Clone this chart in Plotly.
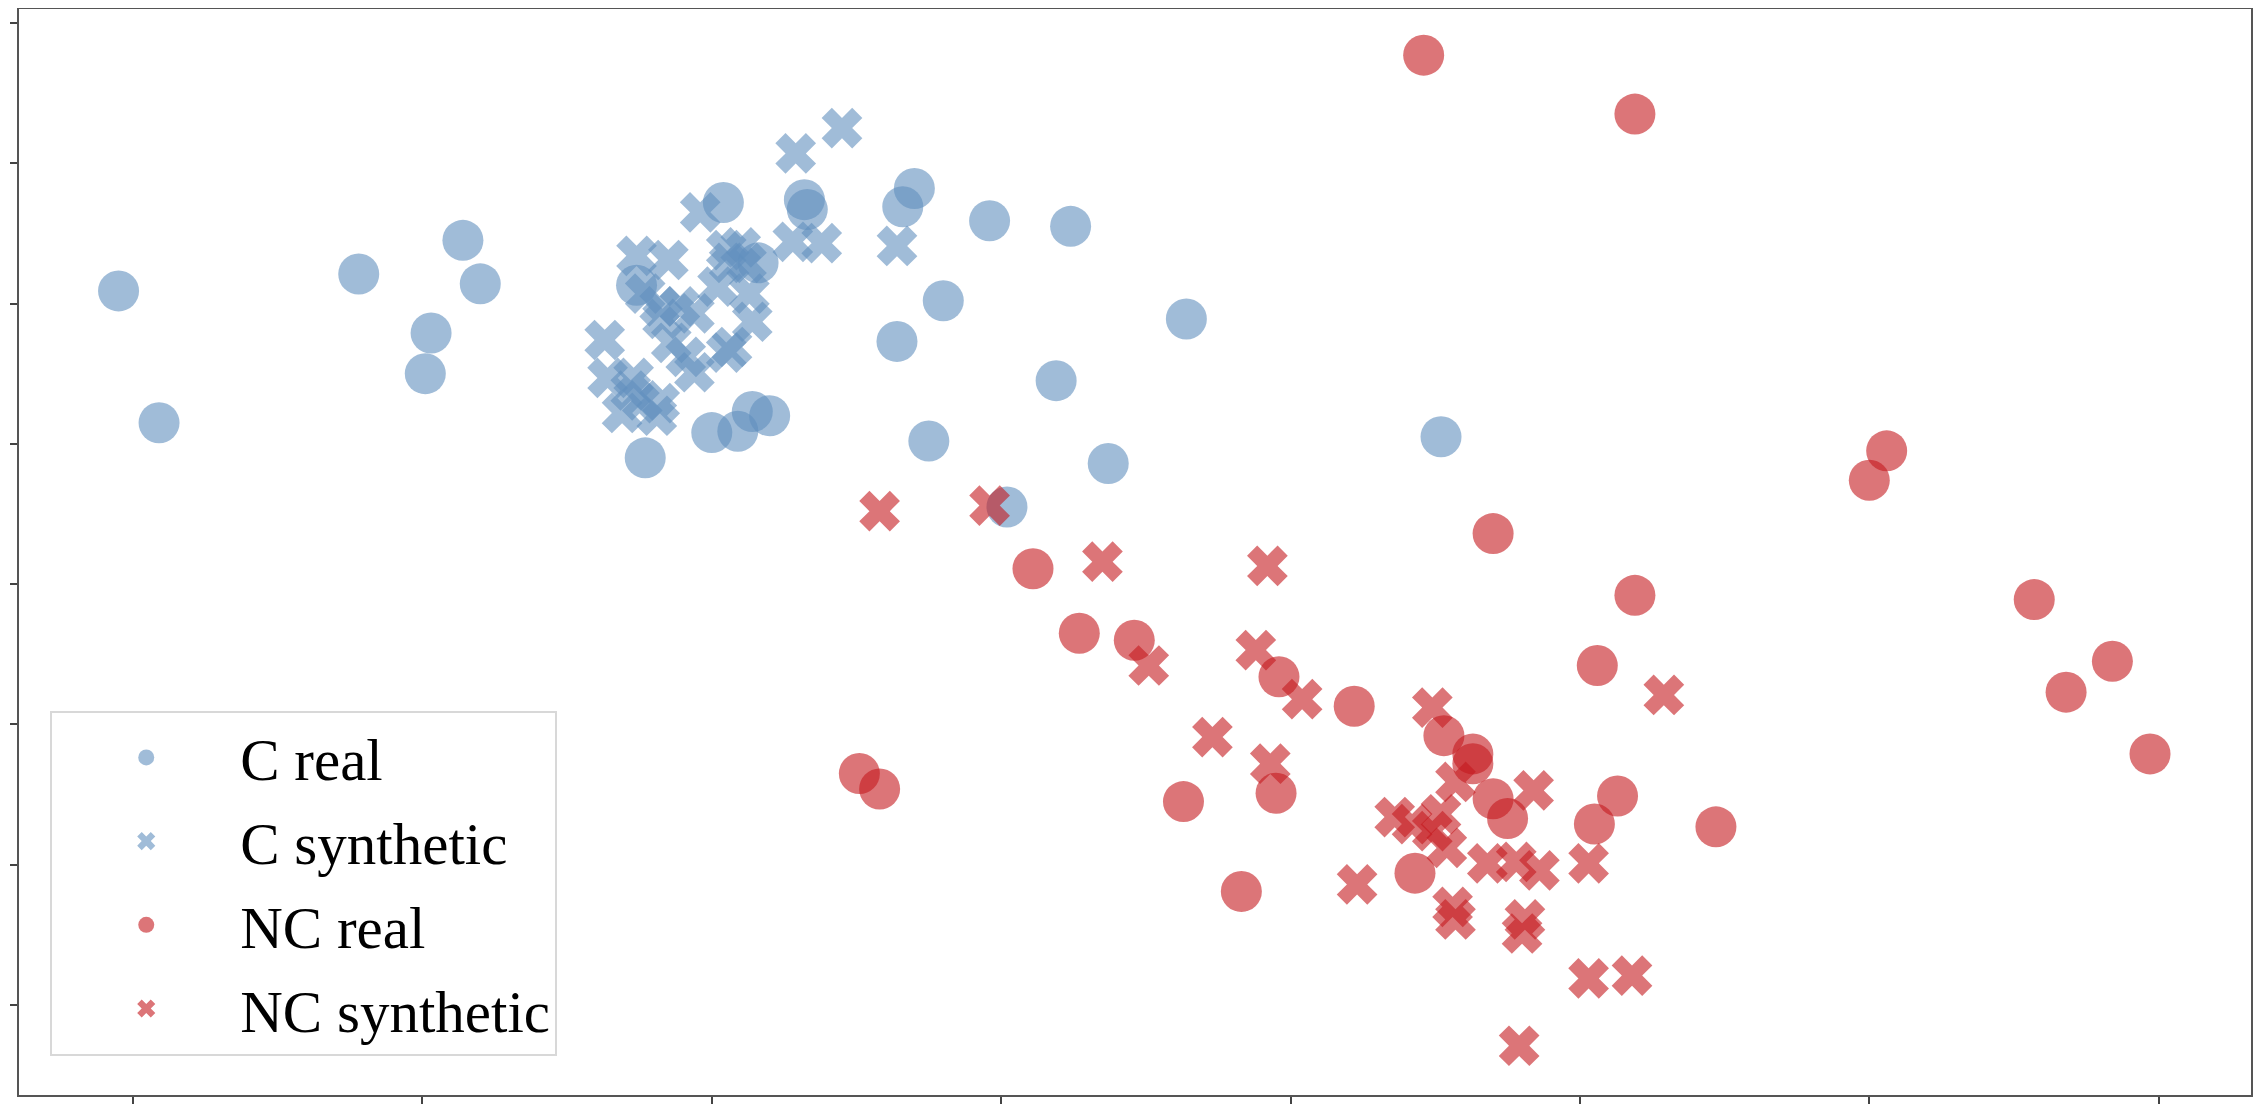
import plotly.graph_objects as go

# C real
c_real_x = [-0.05, 0.09, 0.78, 1.14, 1.20, 1.03, 1.01, 1.77, 1.74, 2.04, 2.32, 2.33,
            2.70, 2.66, 2.16, 2.64, 2.80, 2.75, 2.00, 2.09, 2.14, 2.20, 2.96, 3.24,
            3.19, 3.64, 3.37, 4.52, 3.02]
c_real_y = [5.09, 4.15, 5.21, 5.45, 5.14, 4.79, 4.50, 3.90, 5.13, 5.72, 5.74, 5.67,
            5.82, 5.69, 5.29, 4.73, 5.02, 4.02, 4.08, 4.09, 4.23, 4.20, 5.59, 5.55,
            4.45, 4.89, 3.86, 4.05, 3.55]

# C synthetic
c_syn_x = [2.45, 2.29, 1.96, 2.28, 2.38, 2.64, 1.74, 1.85, 2.05, 2.10, 2.06, 2.12,
           2.02, 2.13, 1.77, 1.82, 1.94, 1.83, 1.89, 2.14, 1.63, 2.07, 2.05, 1.86,
           1.91, 1.94, 1.64, 1.73, 1.69, 1.76, 1.82, 1.81, 1.72]
c_syn_y = [6.25, 6.07, 5.65, 5.44, 5.43, 5.41, 5.34, 5.31, 5.38, 5.40, 5.29, 5.29,
           5.12, 5.07, 5.07, 4.98, 4.93, 4.89, 4.98, 4.87, 4.74, 4.69, 4.65, 4.72,
           4.62, 4.51, 4.47, 4.47, 4.22, 4.31, 4.29, 4.20, 4.38]

# NC real
nc_real_x = [4.46, 5.19, 6.06, 6.00, 4.70, 3.11, 5.19, 3.27, 3.46, 3.96, 5.06, 6.57,
             6.84, 6.68, 6.97, 4.22, 4.53, 4.63, 4.63, 4.70, 4.75, 2.51, 2.58, 3.63,
             3.95, 5.13, 5.05, 5.47, 4.43, 3.83]
nc_real_y = [6.77, 6.35, 3.95, 3.74, 3.36, 3.11, 2.92, 2.65, 2.60, 2.34, 2.42, 2.89,
             2.45, 2.23, 1.79, 2.13, 1.92, 1.79, 1.72, 1.47, 1.33, 1.65, 1.54, 1.45,
             1.51, 1.49, 1.29, 1.27, 0.94, 0.81]

# NC synthetic
nc_syn_x = [2.58, 2.96, 3.35, 3.92, 3.88, 3.51, 4.04, 3.73, 3.93, 4.49, 5.29, 4.57,
            4.84, 4.36, 4.42, 4.49, 4.52, 4.54, 4.68, 4.78, 4.86, 5.03, 4.23, 4.56,
            4.57, 4.81, 4.80, 5.03, 5.18, 4.79]
nc_syn_y = [3.52, 3.56, 3.16, 3.13, 2.53, 2.42, 2.18, 1.91, 1.72, 2.12, 2.21, 1.59,
            1.53, 1.34, 1.29, 1.24, 1.36, 1.12, 1.01, 1.02, 0.96, 1.01, 0.86, 0.70,
            0.61, 0.61, 0.51, 0.19, 0.21, -0.29]

blue = "rgba(97,143,190,0.6)"
red = "rgba(197,25,30,0.6)"

fig = go.Figure()
series = [
    ("C real", c_real_x, c_real_y, "circle", 41, blue),
    ("C synthetic", c_syn_x, c_syn_y, "x", 36, blue),
    ("NC real", nc_real_x, nc_real_y, "circle", 41, red),
    ("NC synthetic", nc_syn_x, nc_syn_y, "x", 36, red),
]
for name, xs, ys, sym, size, col in series:
    fig.add_trace(go.Scatter(x=xs, y=ys, mode="markers", name=name, legendgroup=name,
                             marker=dict(symbol=sym, size=size, color=col,
                                         line=dict(width=0))))

ax = dict(showgrid=False, zeroline=False, showticklabels=False, automargin=False,
          ticks="outside", ticklen=7, tickwidth=1.5, tickcolor="#444",
          showline=True, mirror=True, linecolor="#555", linewidth=2)

# page body adds an 8px offset, margins compensate for it
fig.update_layout(
    width=2266, height=1114,
    margin=dict(l=11, r=23, t=1, b=27),
    plot_bgcolor="white", paper_bgcolor="white",
    xaxis=dict(ax, range=[-0.394, 7.319], tickvals=list(range(8))),
    yaxis=dict(ax, range=[-0.641, 7.099], tickvals=list(range(8))),
    legend=dict(x=0.014, y=0.354, xanchor="left", yanchor="top",
                font=dict(family="Liberation Serif, Times New Roman, serif", size=59, color="black"),
                bgcolor="white", bordercolor="#d8d8d8", borderwidth=2,
                itemwidth=178, tracegroupgap=4),
    showlegend=True,
)

fig.write_html("out.html")
